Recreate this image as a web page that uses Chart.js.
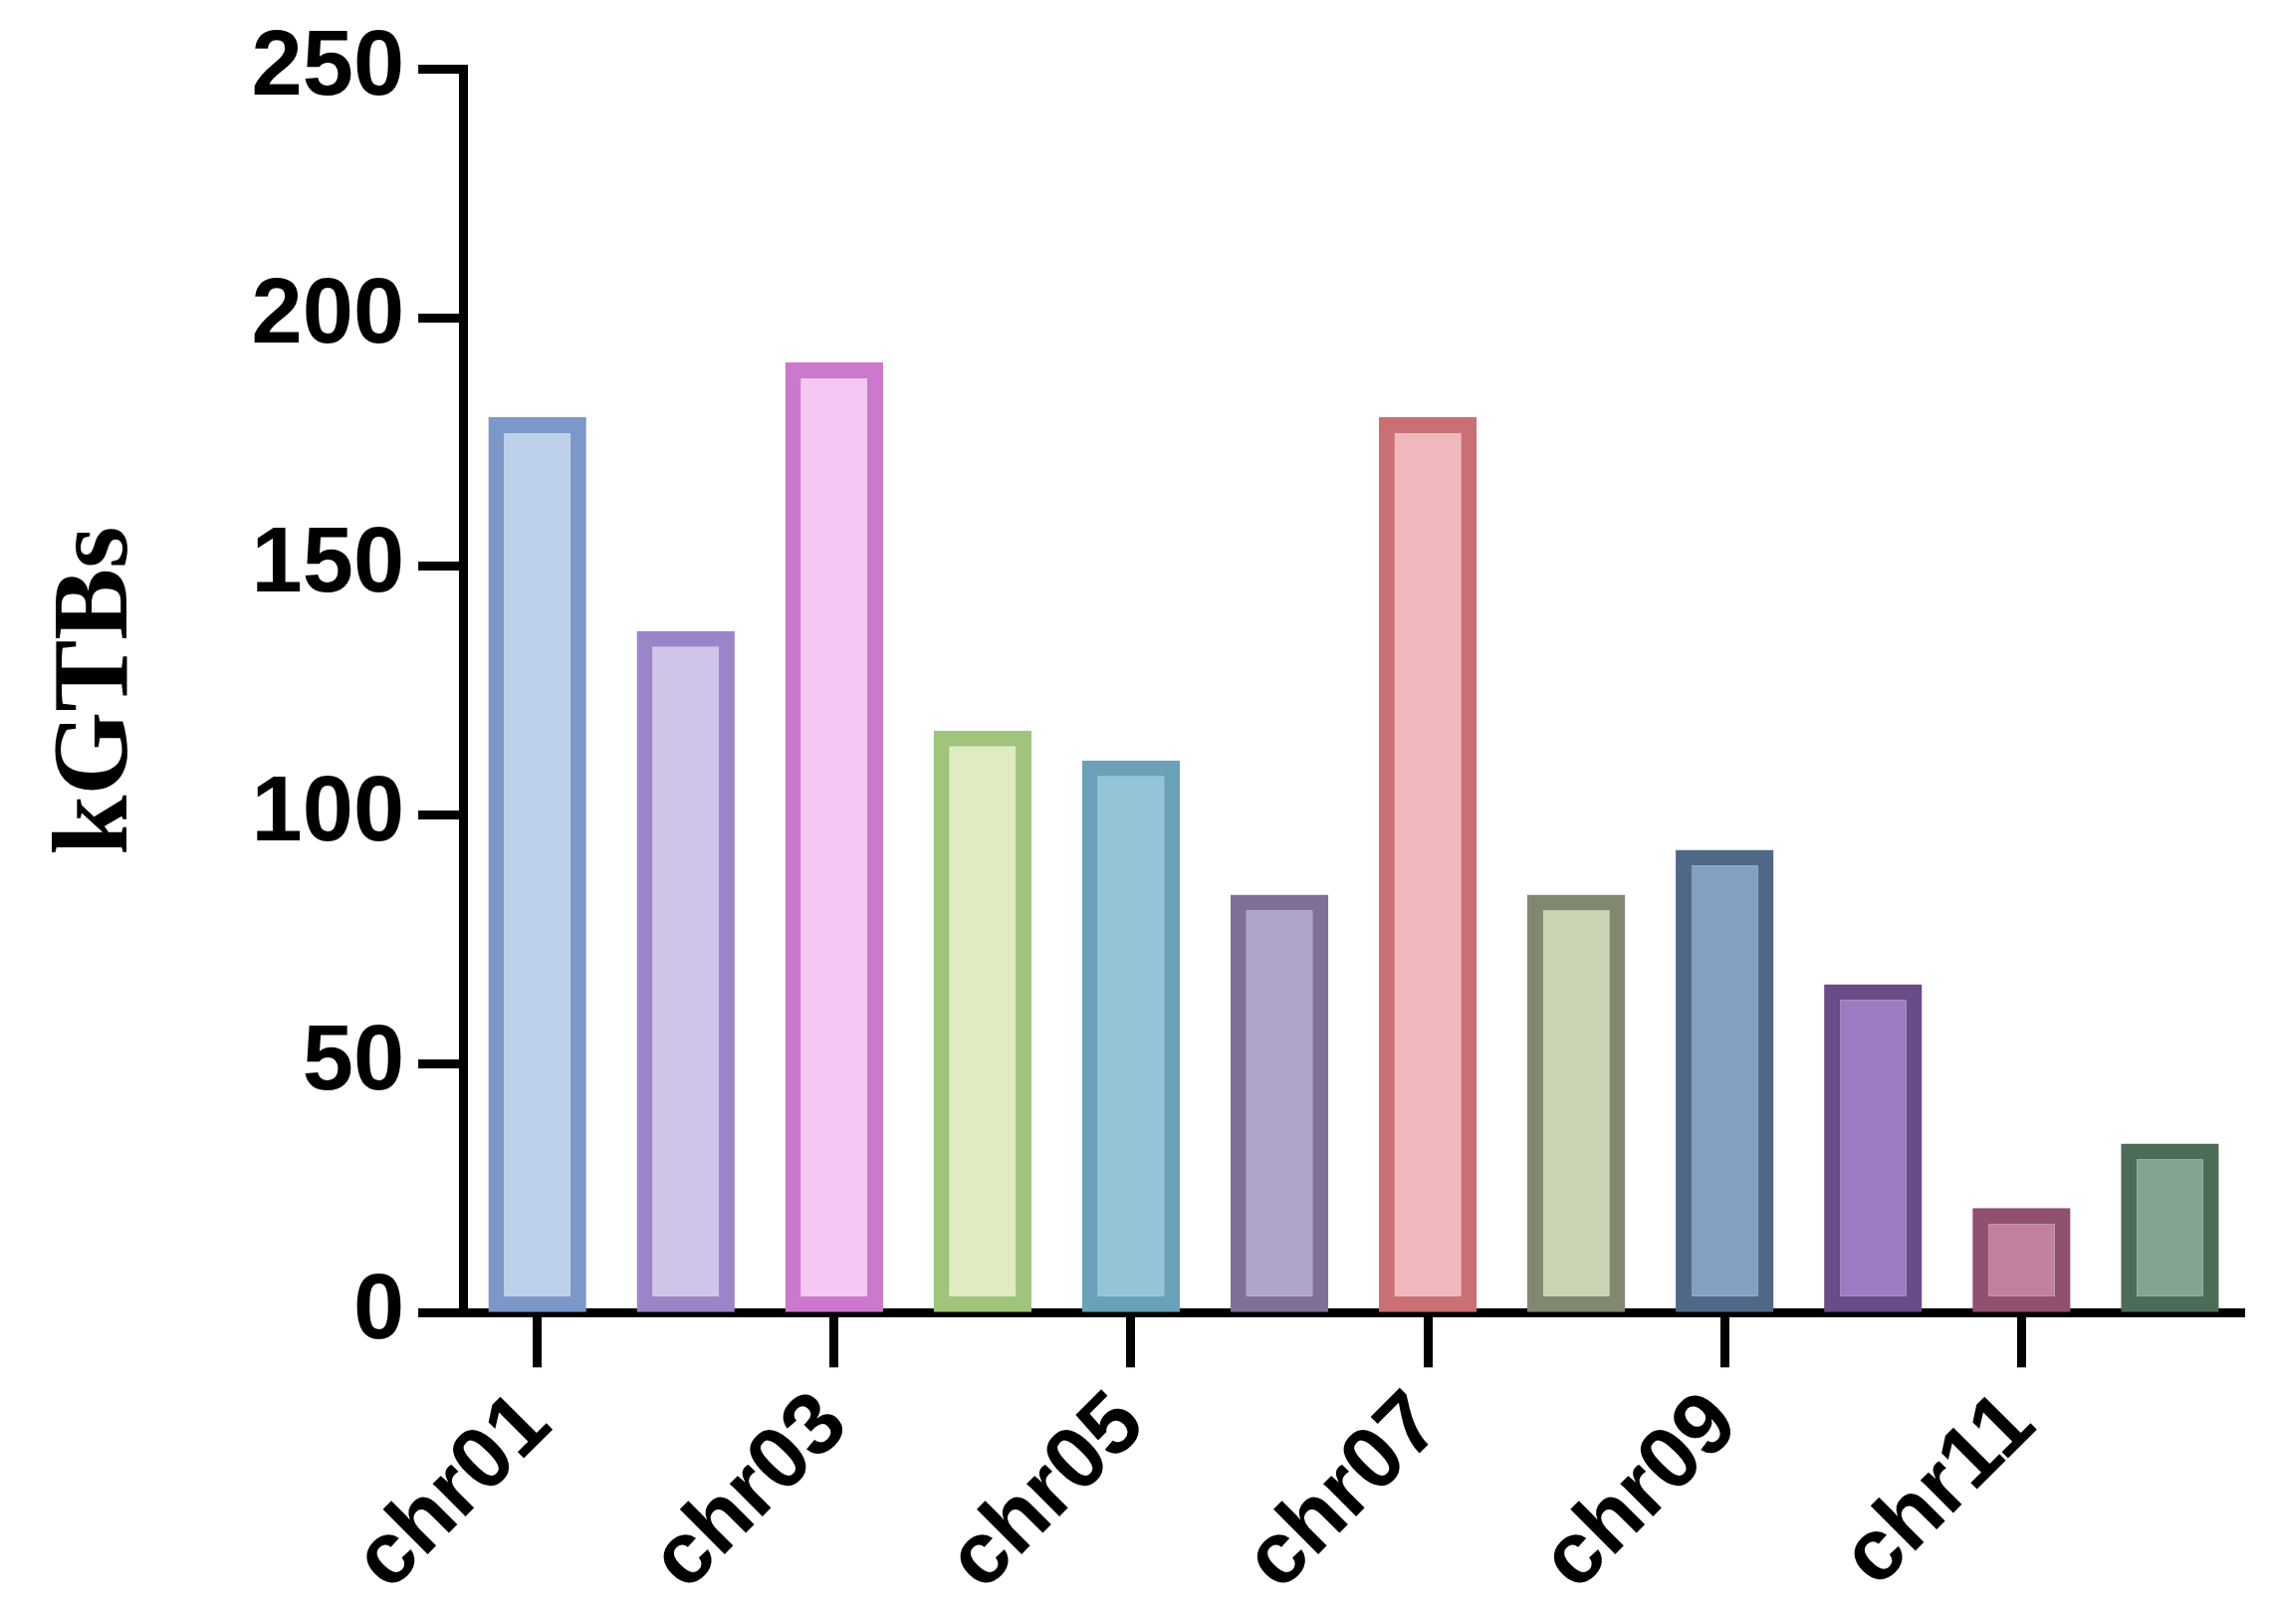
<!DOCTYPE html>
<html>
<head>
<meta charset="utf-8">
<script src="https://cdn.jsdelivr.net/npm/chart.js@4"></script>
<style>
  html, body { margin: 0; padding: 0; background: #fff; }
  #wrap { width: 2284px; height: 1631px; }
</style>
</head>
<body>
<div id="wrap"><canvas id="myChart"></canvas></div>
<script>
const labels = ['chr01','chr02','chr03','chr04','chr05','chr06','chr07','chr08','chr09','chr10','chr11','chr12'];
const values = [180, 137, 191, 117, 111, 84, 180, 84, 93, 66, 21, 34];
const fills = ['#bcd0ea','#d0c4e8','#f4c8f2','#deecc0','#94c4d8','#b0a4cc','#f0b8bc','#c8d4b4','#84a0c0','#9c7cc0','#c080a0','#84a490'];
const borders = ['#7b98c8','#9c84c8','#cc78cc','#a0c47c','#6aa0b8','#807098','#c87074','#808870','#506888','#684c88','#905070','#4c6c58'];

var ctx = document.getElementById('myChart');

var myChart = new Chart(ctx, {
  type: 'bar',
  data: {
    labels: labels,
    datasets: [{
      data: values,
      backgroundColor: fills,
      borderColor: borders,
      borderWidth: 16,
      borderSkipped: false,
      barPercentage: 0.66,
      categoryPercentage: 1
    }]
  },
  options: {
    responsive: true,
    maintainAspectRatio: false,
    animation: false,
    layout: { padding: { top: 50, right: 30, left: 30, bottom: 5 } },
    plugins: { legend: { display: false }, tooltip: { enabled: false } },
    scales: {
      x: {
        offset: true,
        grid: { drawOnChartArea: false, tickLength: 55, tickWidth: 9, tickColor: '#000', offset: false },
        border: { color: '#000', width: 9 },
        ticks: {
          color: '#000',
          maxRotation: 45, minRotation: 45,
          padding: 6,
          font: { family: 'Liberation Sans', weight: 'bold', size: 88 }
        }
      },
      y: {
        min: 0, max: 250,
        grid: { drawOnChartArea: false, tickLength: 45, tickWidth: 9, tickColor: '#000' },
        border: { color: '#000', width: 9 },
        ticks: {
          stepSize: 50, color: '#000', padding: 14,
          font: { family: 'Liberation Sans', weight: 'bold', size: 92 }
        },
        title: {
          display: true, text: 'kGTBs', color: '#000', padding: { bottom: 75 },
          font: { family: 'Liberation Serif', weight: 'bold', size: 108 }
        }
      }
    }
  }
});
</script>
</body>
</html>
